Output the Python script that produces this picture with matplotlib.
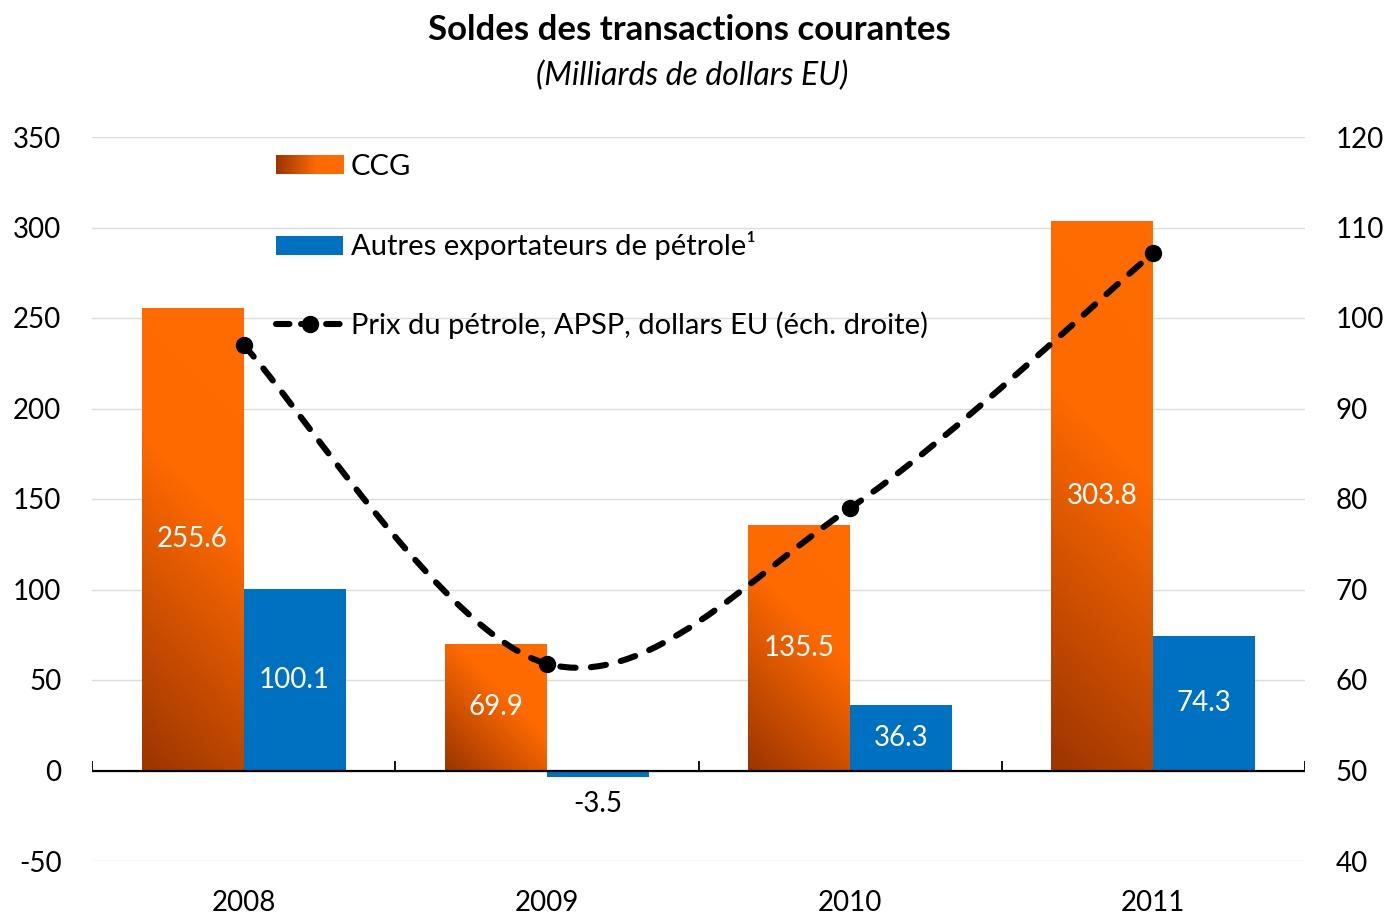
import numpy as np
import matplotlib
matplotlib.use('Agg')
import matplotlib.pyplot as plt
from matplotlib.colors import LinearSegmentedColormap, Normalize
from matplotlib.path import Path
from matplotlib.patches import PathPatch, Rectangle
from matplotlib.lines import Line2D
from matplotlib.legend_handler import HandlerBase
from matplotlib.image import BboxImage
from matplotlib.transforms import Bbox, TransformedBbox

# data
years = ['2008', '2009', '2010', '2011']
ccg = [255.6, 69.9, 135.5, 303.8]
autres = [100.1, -3.5, 36.3, 74.3]
oil_price = [97.0, 61.8, 79.0, 107.2]
left_ticks = [-50, 0, 50, 100, 150, 200, 250, 300, 350]
right_ticks = [40, 50, 60, 70, 80, 90, 100, 110, 120]

plt.rcParams['font.family'] = ['Lato', 'DejaVu Sans']

orange_cmap = LinearSegmentedColormap.from_list(
    'ccg', [(0.0, '#9C3500'), (0.6, '#FF6A00'), (1.0, '#FF6C00')])
blue = '#0070C0'

fig = plt.figure(figsize=(13.88, 9.15), dpi=100)
ax = fig.add_axes([92 / 1388, 1 - 861 / 915, (1305 - 92) / 1388, (861 - 137) / 915])
ax.set_xlim(-0.5, len(years) - 0.5)
ax.set_ylim(left_ticks[0], left_ticks[-1])

x = np.arange(len(years))
w = 0.336

# CCG bars: transparent rectangles used as clip paths for a gradient image
ccg_bars = ax.bar(x - w / 2, ccg, w, facecolor='none', edgecolor='none', zorder=2)
for rect in ccg_bars:
    x0, y0 = rect.get_x(), rect.get_y()
    x1, y1 = x0 + rect.get_width(), y0 + rect.get_height()
    (px0, py0), (px1, py1) = ax.transData.transform([(x0, y0), (x1, y1)])
    wpx, hpx = abs(px1 - px0), abs(py1 - py0)
    u = np.linspace(0, 1, 40)[None, :]
    v = np.linspace(0, 1, 200)[:, None]
    grad = (u * wpx + v * hpx) / (wpx + hpx)
    im = ax.imshow(grad, extent=(x0, x1, y0, y1), origin='lower', aspect='auto',
                   cmap=orange_cmap, norm=Normalize(0, 1), interpolation='bilinear', zorder=2)
    im.set_clip_path(rect)

ax.bar(x + w / 2, autres, w, color=blue, zorder=2)

ax.set_xlim(-0.5, len(years) - 0.5)
ax.set_ylim(left_ticks[0], left_ticks[-1])

# data labels
for xi, val in zip(x - w / 2, ccg):
    ax.text(xi, val / 2, f'{val:.1f}', color='white', ha='center', va='center', fontsize=20, zorder=3)
for xi, val in zip(x + w / 2, autres):
    if val > 0:
        ax.text(xi, val / 2, f'{val:.1f}', color='white', ha='center', va='center', fontsize=20, zorder=3)
    else:
        ax.annotate(f'{val:.1f}', (xi, val), xytext=(0, -10), textcoords='offset points',
                    ha='center', va='top', fontsize=20, color='black')

# axes styling
ax.set_yticks(left_ticks)
ax.set_yticklabels([str(t) for t in left_ticks])
ax.set_xticks(x)
ax.set_xticklabels(years)
ax.tick_params(axis='y', length=0, pad=22, labelsize=20)
ax.tick_params(axis='x', length=0, pad=21, labelsize=20)
for s in ax.spines.values():
    s.set_visible(False)
ax.grid(axis='y', color='#DCDCDC', lw=1.0, zorder=0)
ax.set_axisbelow(True)
ax.axhline(0, color='black', lw=1.6, zorder=4)
ax.vlines(np.arange(len(years) + 1) - 0.5, 0, 5, color='black', lw=1.3, zorder=4)

# oil price on the right axis, smoothed like Excel (Catmull-Rom as Bezier)
ax2 = ax.twinx()
ax2.set_ylim(right_ticks[0], right_ticks[-1])
ax2.set_yticks(right_ticks)
ax2.tick_params(axis='y', length=0, pad=22, labelsize=20)
for s in ax2.spines.values():
    s.set_visible(False)

pts = np.column_stack([x, oil_price]).astype(float)
verts = [pts[0]]
codes = [Path.MOVETO]
for i in range(len(pts) - 1):
    p0 = pts[max(i - 1, 0)]
    p1 = pts[i]
    p2 = pts[i + 1]
    p3 = pts[min(i + 2, len(pts) - 1)]
    verts += [p1 + (p2 - p0) / 6, p2 - (p3 - p1) / 6, p2]
    codes += [Path.CURVE4] * 3
curve = PathPatch(Path(verts, codes), fill=False, edgecolor='black', lw=4.4,
                  linestyle=(0, (2.5, 2.5)), capstyle='round', zorder=5)
ax2.add_patch(curve)
ax2.plot(x, oil_price, linestyle='none', marker='o', ms=11.5, color='black', zorder=6)
ax2.set_xlim(-0.5, len(years) - 0.5)


class GradientHandler(HandlerBase):
    def create_artists(self, legend, orig_handle, xdescent, ydescent, width, height, fontsize, trans):
        bb = TransformedBbox(Bbox.from_bounds(-xdescent, -ydescent, width, height), trans)
        img = BboxImage(bb, cmap=orange_cmap, norm=Normalize(0, 1), interpolation='bilinear')
        img.set_data(np.tile(np.linspace(0.0, 1.0, 64), (4, 1)))
        return [img]


ccg_handle = Rectangle((0, 0), 1, 1)
blue_handle = Rectangle((0, 0), 1, 1, facecolor=blue)
oil_handle = Line2D([], [], color='black', lw=4.4, linestyle=(0, (2.2, 1.9)),
                    dash_capstyle='round', marker='o', ms=11.5)
leg = ax2.legend([ccg_handle, blue_handle, oil_handle],
                 ['CCG', 'Autres exportateurs de pétrole¹',
                  'Prix du pétrole, APSP, dollars EU (éch. droite)'],
                 handler_map={ccg_handle: GradientHandler()},
                 loc='upper left', bbox_to_anchor=(276 / 1388, 1 - 154 / 915),
                 bbox_transform=fig.transFigure, frameon=False, fontsize=21,
                 handlelength=2.3, handleheight=0.62, handletextpad=0.27,
                 labelspacing=1.76, borderpad=0, borderaxespad=0, numpoints=1)

fig.text(0.497, 1 - 30 / 915, 'Soldes des transactions courantes', ha='center', va='center',
         fontsize=25, fontweight='bold')
fig.text(0.499, 1 - 76 / 915, '(Milliards de dollars EU)', ha='center', va='center',
         fontsize=23, style='italic')

fig.savefig('out.png', dpi=100)
